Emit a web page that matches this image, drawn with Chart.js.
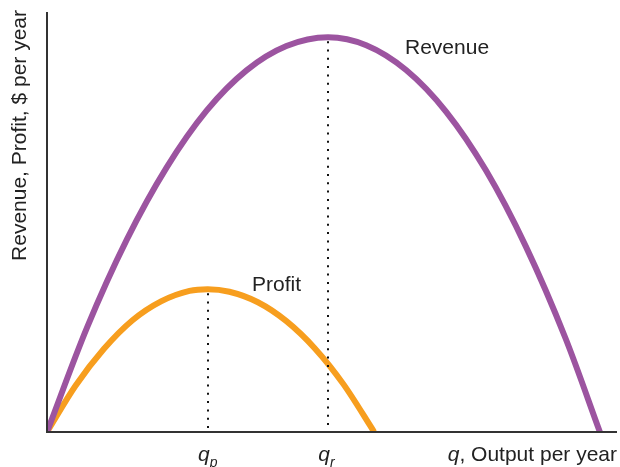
<!DOCTYPE html>
<html>
<head>
<meta charset="utf-8">
<script src="https://cdn.jsdelivr.net/npm/chart.js@4.4.0/dist/chart.umd.min.js"></script>
<style>
  html, body { margin: 0; padding: 0; background: #fff; }
  #wrap { width: 620px; height: 467px; }
</style>
</head>
<body>
<div id="wrap"><canvas id="chart"></canvas></div>
<script>
// output q (arbitrary units) and $ per year (arbitrary units)
var revenueQ = [0, 7, 14, 21, 28, 35, 42, 49.3, 56, 63, 70, 77, 84, 91, 97];
var revenueV = [0, 24.8, 45.8, 63.0, 76.5, 86.1, 91.9, 94, 92.1, 86.2, 76.3, 62.3, 44.2, 22.2, 0];

var profitQ = [0, 5, 10, 15, 20, 25, 28.2, 32, 37, 42, 47, 52, 57.4];
var profitV = [0, 11.0, 19.8, 26.6, 31.1, 33.6, 34, 33.4, 30.9, 26.4, 19.9, 11.4, 0];

// marked outputs on the x axis
var markQ = [28.2, 49.3];
var markV = [34, 94];
var markLabels = ["p", "r"];

var yTitle = "Revenue, Profit, $ per year";
var xTitle = ", Output per year";

function pts(xs, ys) {
  return xs.map(function (x, i) { return { x: x, y: ys[i] }; });
}

var font = "'Liberation Sans', Arial, sans-serif";

var decor = {
  id: "decor",
  afterDatasetsDraw: function (chart) {
    var c = chart.ctx, a = chart.chartArea;
    var xs = chart.scales.x, ys = chart.scales.y;
    c.save();

    // dotted drop lines
    c.strokeStyle = "#111";
    c.lineWidth = 2;
    c.setLineDash([2, 6.3]);
    c.lineCap = "butt";
    for (var i = 0; i < markQ.length; i++) {
      var px = Math.round(xs.getPixelForValue(markQ[i]));
      c.beginPath();
      c.moveTo(px, ys.getPixelForValue(markV[i]) + 4);
      c.lineTo(px, a.bottom);
      c.stroke();
    }
    c.setLineDash([]);

    // axes
    c.strokeStyle = "#333";
    c.lineWidth = 2;
    c.beginPath();
    c.moveTo(a.left, a.top);
    c.lineTo(a.left, a.bottom);
    c.lineTo(a.right, a.bottom);
    c.stroke();

    // curve labels
    c.fillStyle = "#222";
    c.font = "21px " + font;
    c.textBaseline = "middle";
    c.textAlign = "left";
    c.fillText("Revenue", 405, 48);
    c.fillText("Profit", 252, 285);

    // x labels
    c.textBaseline = "alphabetic";
    for (var j = 0; j < markQ.length; j++) {
      var x = xs.getPixelForValue(markQ[j]);
      c.font = "italic 21px " + font;
      var w = c.measureText("q").width;
      c.textAlign = "left";
      c.fillText("q", x - w + 2, 461);
      c.font = "italic 14px " + font;
      c.fillText(markLabels[j], x + 2, 467);
    }
    c.font = "21px " + font;
    var tw = c.measureText(xTitle).width;
    c.textAlign = "right";
    c.fillText(xTitle, a.right, 461);
    c.font = "italic 21px " + font;
    c.fillText("q", a.right - tw, 461);

    // y title
    c.translate(20, 10);
    c.rotate(-Math.PI / 2);
    c.font = "21px " + font;
    c.textAlign = "right";
    c.textBaseline = "middle";
    c.fillText(yTitle, 0, 0);

    c.restore();
  }
};

new Chart(document.getElementById("chart"), {
  type: "scatter",
  data: {
    datasets: [
      {
        label: "Revenue",
        data: pts(revenueQ, revenueV),
        showLine: true,
        borderColor: "#9c54a0",
        borderWidth: 6,
        pointRadius: 0,
        cubicInterpolationMode: "monotone",
        clip: 0
      },
      {
        label: "Profit",
        data: pts(profitQ, profitV),
        showLine: true,
        borderColor: "#f79e1e",
        borderWidth: 6,
        pointRadius: 0,
        cubicInterpolationMode: "monotone",
        clip: 0
      }
    ]
  },
  options: {
    responsive: true,
    maintainAspectRatio: false,
    animation: false,
    layout: { padding: { left: 47, top: 12, right: 3, bottom: 35 } },
    scales: {
      x: { type: "linear", min: 0, max: 100, display: false },
      y: { min: 0, max: 100, display: false }
    },
    plugins: {
      legend: { display: false },
      tooltip: { enabled: false }
    }
  },
  plugins: [decor]
});
</script>
</body>
</html>
